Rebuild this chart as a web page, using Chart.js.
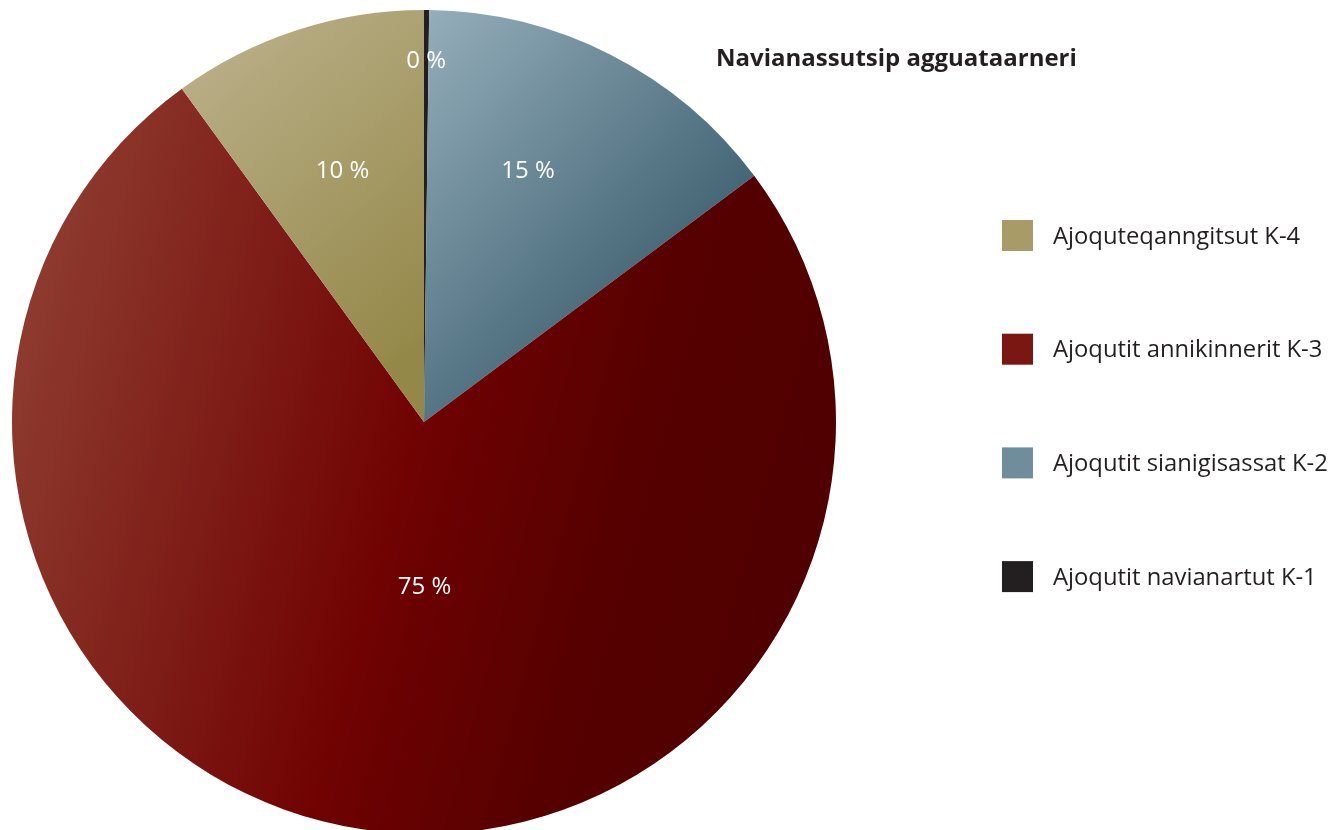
<!DOCTYPE html>
<html>
<head>
<meta charset="utf-8">
<script src="https://cdn.jsdelivr.net/npm/chart.js@4"></script>
<style>
  html, body { margin: 0; padding: 0; background: #fff; overflow: hidden; }
  #wrap { width: 1344px; height: 844px; }
</style>
</head>
<body>
<div id="wrap"><canvas id="grafico" width="1344" height="844"></canvas></div>
<script>
const titulo = 'Navianassutsip agguataarneri';
const kategoriat = ['Ajoqutit navianartut K-1', 'Ajoqutit sianigisassat K-2', 'Ajoqutit annikinnerit K-3', 'Ajoquteqanngitsut K-4'];
const procentit = [0.2, 14.6, 75.2, 10.0];
const qalipaatit = ['#231f20', '#6f8d9a', '#7a1712', '#a89b68'];

// gradient per slice: [x0, y0, x1, y1] as fraction of chart area, stops
const gradientit = [
  null,
  { p: [0.51, 0.0, 0.85, 0.32], s: [[0, '#94adba'], [1, '#3d5f6f']] },
  { p: [0.0, 0.35, 1.0, 0.62], s: [[0, '#8f3d30'], [0.5, '#700202'], [0.75, '#560000'], [1, '#4f0000']] },
  { p: [0.2, 0.05, 0.5, 0.4], s: [[0, '#bbb08a'], [1, '#948849']] }
];
// label anchor: angle shift (deg) and radius fraction
const labelPos = [[0, 0.875], [-4.5, 0.66], [-8.8, 0.40], [0, 0.64]];

function sliceFill(ctx) {
  const chart = ctx.chart;
  const a = chart.chartArea;
  const i = ctx.dataIndex;
  const g = gradientit[i];
  if (!a || !g) return qalipaatit[i];
  const w = a.right - a.left, h = a.bottom - a.top;
  const lg = chart.ctx.createLinearGradient(a.left + g.p[0] * w, a.top + g.p[1] * h, a.left + g.p[2] * w, a.top + g.p[3] * h);
  g.s.forEach(st => lg.addColorStop(st[0], st[1]));
  return lg;
}

const labelPlugin = {
  id: 'labelPlugin',
  afterDatasetsDraw(chart) {
    const c = chart.ctx;
    const meta = chart.getDatasetMeta(0);
    c.save();
    c.fillStyle = '#ffffff';
    c.font = '24px "Open Sans", sans-serif';
    c.textAlign = 'center';
    c.textBaseline = 'middle';
    meta.data.forEach((arc, i) => {
      const mid = (arc.startAngle + arc.endAngle) / 2 + labelPos[i][0] * Math.PI / 180;
      const r = arc.outerRadius * labelPos[i][1];
      const x = arc.x + Math.cos(mid) * r;
      const y = arc.y + Math.sin(mid) * r;
      c.fillText(Math.round(procentit[i]) + ' %', x, y);
    });
    c.restore();
  }
};

const legendPlugin = {
  id: 'legendPlugin',
  afterDraw(chart) {
    const c = chart.ctx;
    c.save();
    c.fillStyle = '#231f20';
    c.font = 'bold 24px "Open Sans", sans-serif';
    c.textAlign = 'left';
    c.textBaseline = 'alphabetic';
    c.fillText(titulo, 716, 66);
    c.font = '23.8px "Open Sans", sans-serif';
    c.textBaseline = 'middle';
    for (let k = 0; k < kategoriat.length; k++) {
      const i = kategoriat.length - 1 - k;
      const y = 220 + k * 113.7;
      c.fillStyle = qalipaatit[i];
      c.fillRect(1002, y, 31, 31);
      c.fillStyle = '#231f20';
      c.fillText(kategoriat[i], 1053, y + 17);
    }
    c.restore();
  }
};

new Chart(document.getElementById('grafico'), {
  type: 'pie',
  data: {
    labels: kategoriat,
    datasets: [{
      data: procentit,
      backgroundColor: sliceFill,
      borderWidth: 0
    }]
  },
  options: {
    responsive: false,
    animation: false,
    layout: { padding: { left: 12, right: 508, top: 10, bottom: 10 } },
    plugins: {
      legend: { display: false },
      tooltip: { enabled: false }
    }
  },
  plugins: [labelPlugin, legendPlugin]
});
</script>
</body>
</html>
